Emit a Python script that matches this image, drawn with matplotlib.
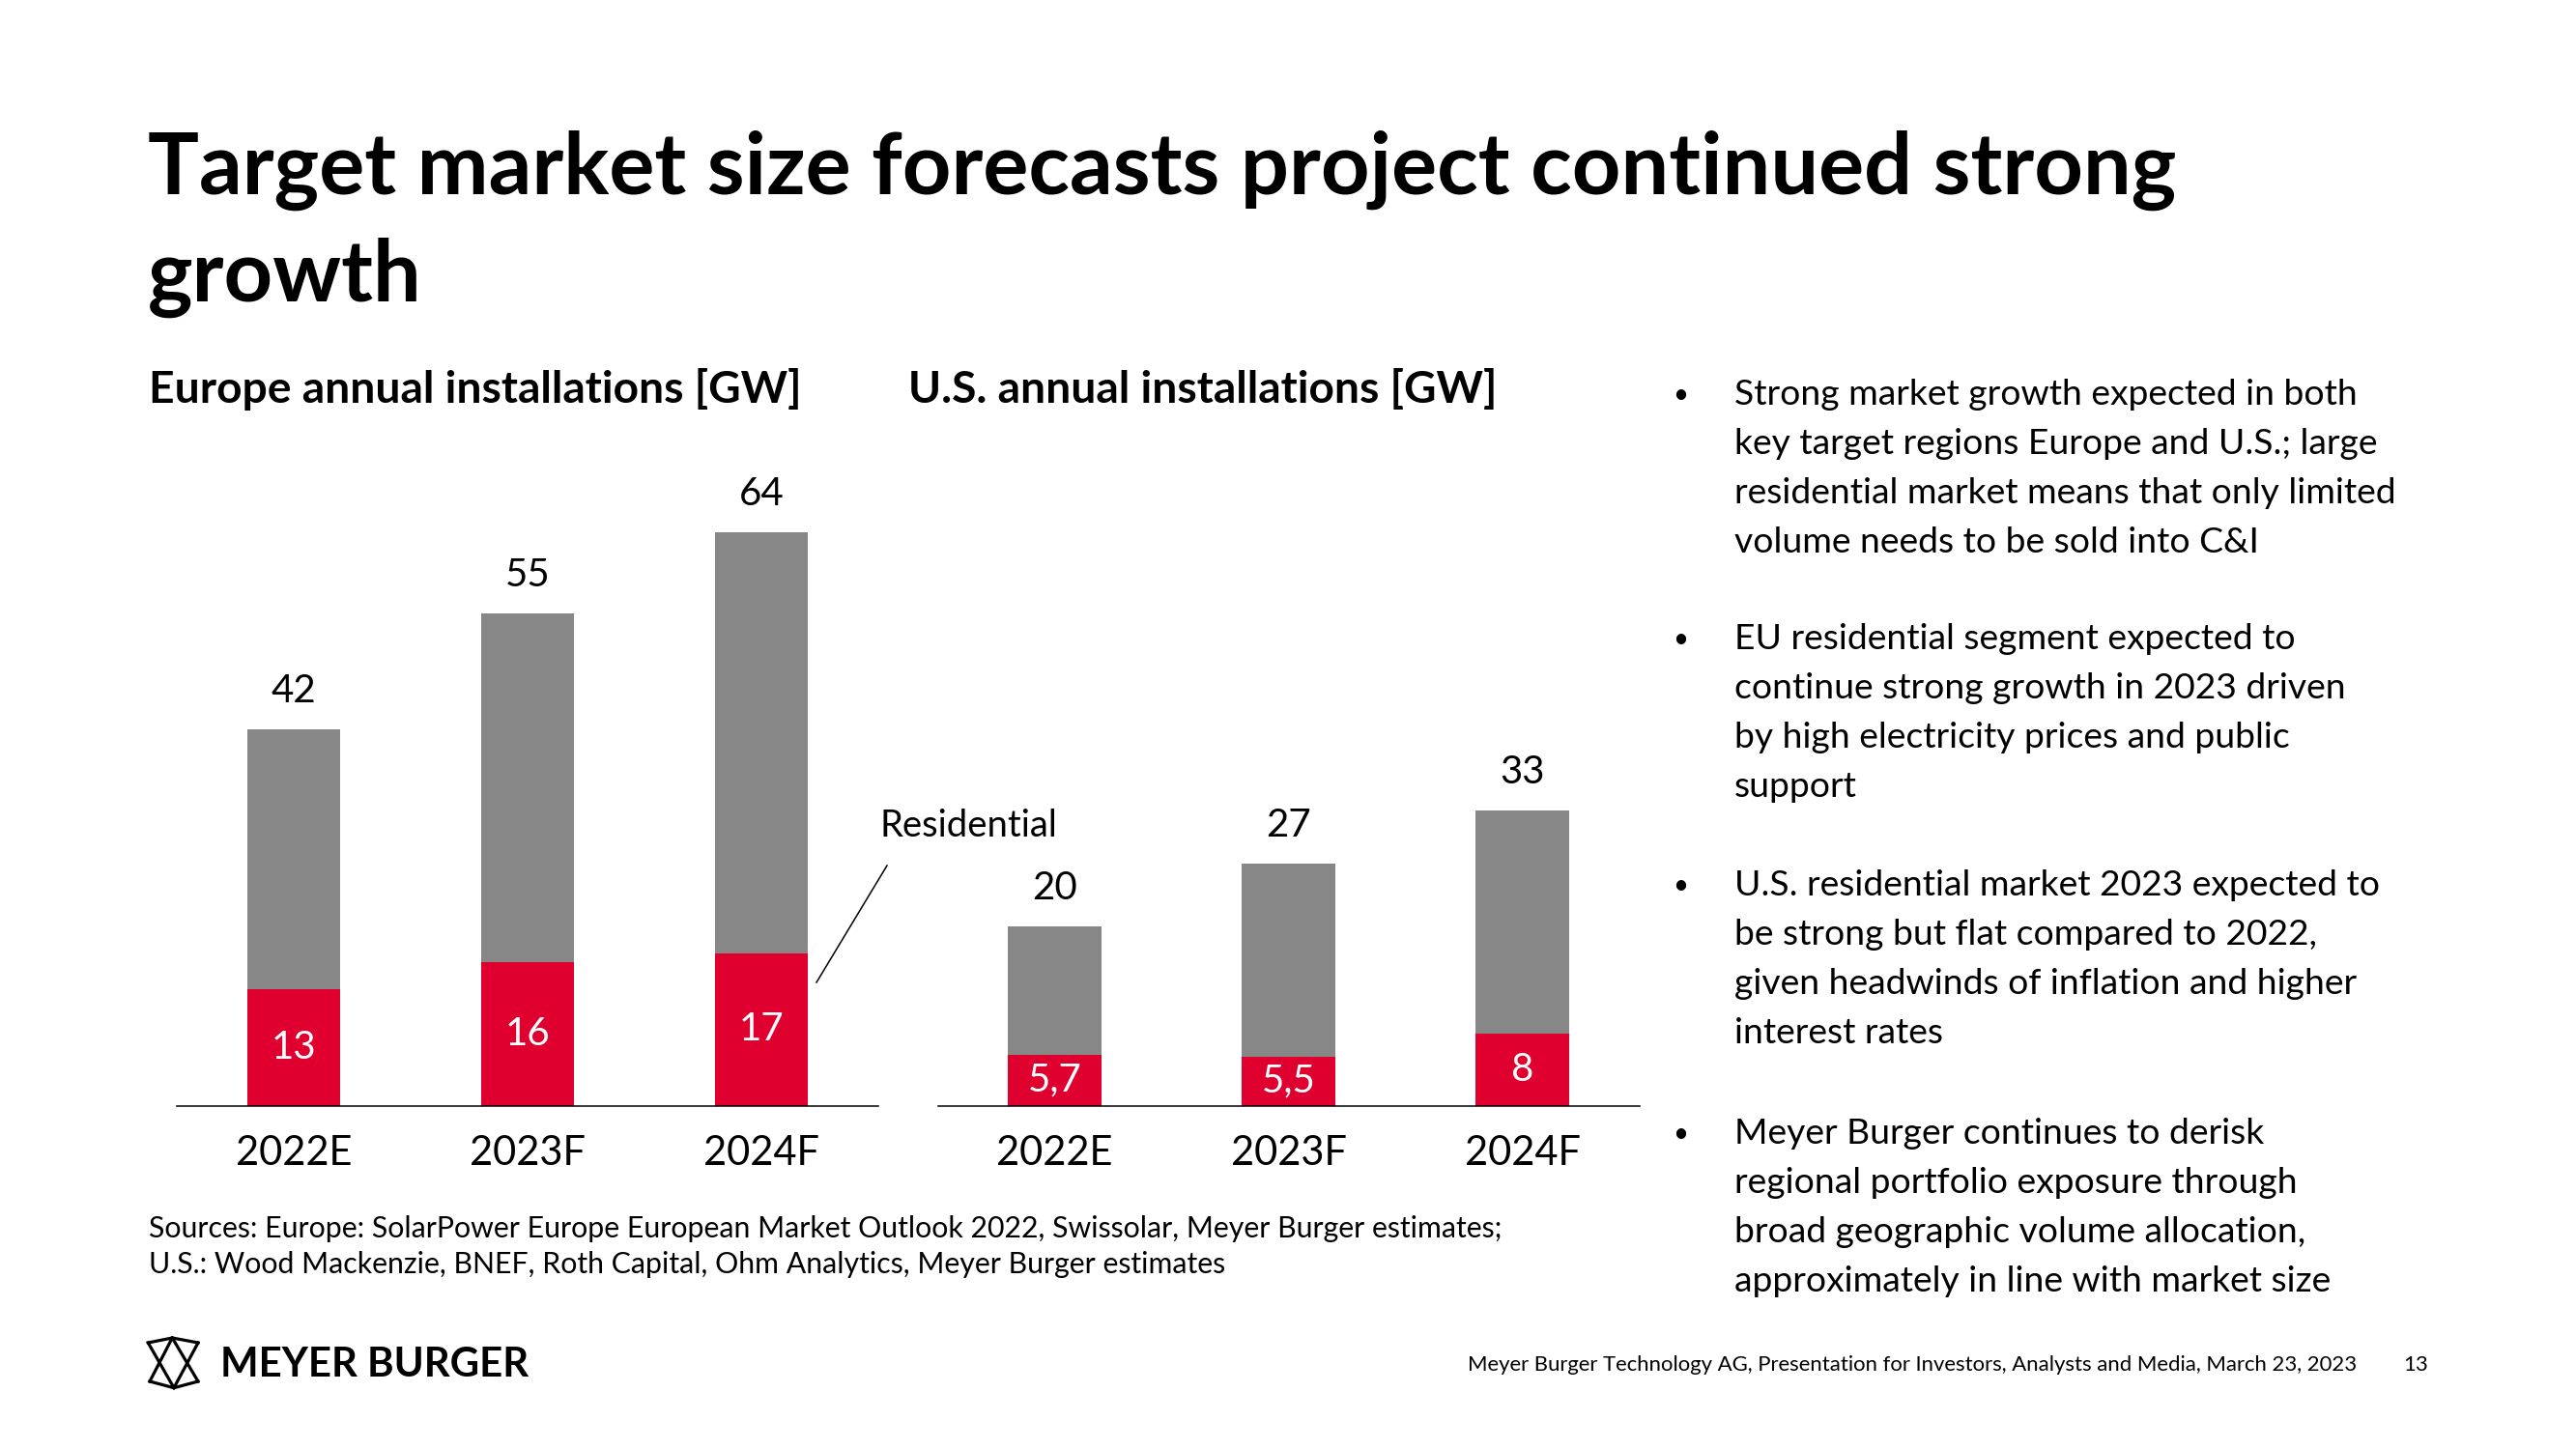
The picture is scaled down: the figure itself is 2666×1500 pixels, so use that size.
import matplotlib
matplotlib.use("Agg")
import matplotlib.pyplot as plt
from matplotlib.lines import Line2D

plt.rcParams['font.family'] = ['Lato', 'DejaVu Sans']

# ---------------- data ----------------
years = ["2022E", "2023F", "2024F"]
eu_total = [42, 55, 64]
eu_residential = [13, 16, 17]
us_total = [20, 27, 33]
us_residential = [5.7, 5.5, 8]

title_lines = ["Target market size forecasts project continued strong", "growth"]
eu_subtitle = "Europe annual installations [GW]"
us_subtitle = "U.S. annual installations [GW]"
residential_label = "Residential"
bullets = [
    ["Strong market growth expected in both",
     "key target regions Europe and U.S.; large",
     "residential market means that only limited",
     "volume needs to be sold into C&I"],
    ["EU residential segment expected to",
     "continue strong growth in 2023 driven",
     "by high electricity prices and public",
     "support"],
    ["U.S. residential market 2023 expected to",
     "be strong but flat compared to 2022,",
     "given headwinds of inflation and higher",
     "interest rates"],
    ["Meyer Burger continues to derisk",
     "regional portfolio exposure through",
     "broad geographic volume allocation,",
     "approximately in line with market size"],
]
sources = ["Sources: Europe: SolarPower Europe European Market Outlook 2022, Swissolar, Meyer Burger estimates;",
           "U.S.: Wood Mackenzie, BNEF, Roth Capital, Ohm Analytics, Meyer Burger estimates"]
footer = "Meyer Burger Technology AG, Presentation for Investors, Analysts and Media, March 23, 2023"
page_no = "13"
brand = "MEYER BURGER"

# ---------------- style ----------------
W, H = 2666, 1500
GRAY = "#878787"
RED = "#E0002F"


def fx(x):
    return x / W


def fy(y):
    return 1 - y / H


fig = plt.figure(figsize=(W / 100, H / 100), dpi=100)
fig.patch.set_facecolor("white")

# title
fig.text(fx(153), fy(201), title_lines[0], fontsize=63.5, fontweight="bold", va="baseline", ha="left")
fig.text(fx(153), fy(312), title_lines[1], fontsize=63.5, fontweight="bold", va="baseline", ha="left")

# subtitles
fig.text(fx(154), fy(417), eu_subtitle, fontsize=33.2, fontweight="bold", va="baseline")
fig.text(fx(940), fy(417), us_subtitle, fontsize=33.2, fontweight="bold", va="baseline")

# ---------------- charts ----------------
ax_w = 726 / W
ax_h = 649 / H
ax_b = fy(1144.5)


def fmt(v):
    return f"{v:g}".replace(".", ",")


def draw(ax, totals, res):
    x = list(range(len(years)))
    other = [t - r for t, r in zip(totals, res)]
    ax.bar(x, res, width=0.4, color=RED, linewidth=0)
    ax.bar(x, other, bottom=res, width=0.4, color=GRAY, linewidth=0)
    ax.set_xlim(-0.5, 2.5)
    ax.set_ylim(0, 70)
    for s in ["top", "left", "right"]:
        ax.spines[s].set_visible(False)
    ax.spines["bottom"].set_linewidth(1.1)
    ax.spines["bottom"].set_color("black")
    ax.set_yticks([])
    ax.set_xticks([])
    for i in x:
        ax.annotate(str(totals[i]), xy=(i, totals[i]), xytext=(0, 20), textcoords="offset points",
                    ha="center", va="baseline", fontsize=29, color="black")
        ax.text(i, res[i] / 2, fmt(res[i]), ha="center", va="center", fontsize=29, color="white")
        ax.annotate(years[i], xy=(i, 0), xytext=(0, -44.3), textcoords="offset points",
                    ha="center", va="baseline", fontsize=30, color="black")


ax_eu = fig.add_axes([fx(183), ax_b, ax_w, ax_h])
draw(ax_eu, eu_total, eu_residential)
ax_us = fig.add_axes([fx(970.5), ax_b, ax_w, ax_h])
draw(ax_us, us_total, us_residential)

# residential callout
fig.text(fx(910), fy(866), residential_label, fontsize=27.5, va="baseline", ha="left")
fig.add_artist(Line2D([fx(845), fx(918)], [fy(1017), fy(896)], transform=fig.transFigure,
                      color="black", linewidth=1.1))

# ---------------- bullets ----------------
line_step = 50.9
first_baselines = [419, 672, 927, 1184]
for block, y0 in zip(bullets, first_baselines):
    fig.text(fx(1731), fy(y0 - 2), "\u2022", fontsize=20, va="baseline", ha="left")
    for k, line in enumerate(block):
        fig.text(fx(1795), fy(y0 + k * line_step), line, fontsize=26.8, va="baseline", ha="left")

# sources
fig.text(fx(154), fy(1281), sources[0], fontsize=21.8, va="baseline", ha="left")
fig.text(fx(154), fy(1318), sources[1], fontsize=21.8, va="baseline", ha="left")

# footer
fig.text(fx(1519), fy(1419), footer, fontsize=15.9, va="baseline", ha="left")
fig.text(fx(2513), fy(1419), page_no, fontsize=15.9, va="baseline", ha="right")

# logo mark
TL, TM, TR = (153.3, 1390), (178.3, 1385), (205, 1390)
BL, BM, BR = (155, 1430), (180, 1436.7), (205, 1430)
for seg in [(TL, TM, TR), (BL, BM, BR), (TL, BM), (TR, BM), (TM, BL), (TM, BR)]:
    fig.add_artist(Line2D([fx(p[0]) for p in seg], [fy(p[1]) for p in seg], transform=fig.transFigure,
                          color="black", linewidth=2.3, solid_joinstyle="miter"))
fig.text(fx(228), fy(1425), brand, fontsize=30.2, fontweight="bold", va="baseline", ha="left")

fig.savefig("out.png", dpi=100, facecolor="white")
